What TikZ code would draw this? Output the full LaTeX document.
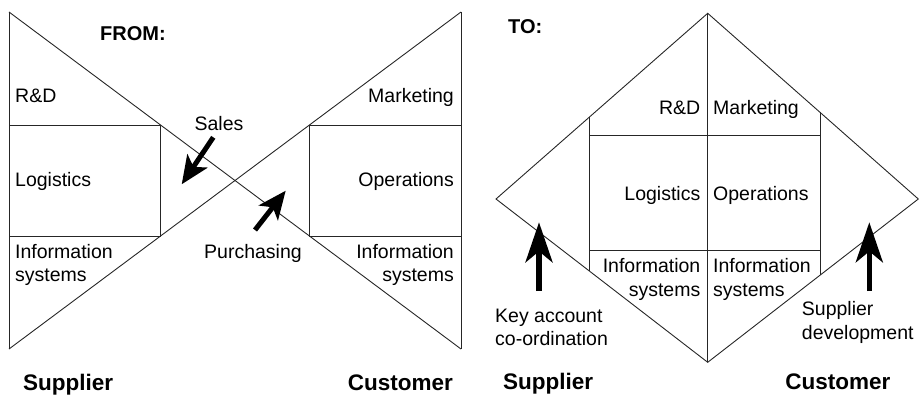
\documentclass[tikz,border=0pt]{standalone}
\usepackage{fontspec}
\setmainfont{Liberation Sans}
\usetikzlibrary{arrows.meta}
\tikzset{
  outline/.style={draw=black!85, line width=0.9pt},
  lbl/.style={inner sep=0pt, font=\fontsize{19.5}{23.5}\selectfont},
  lblL/.style={lbl, anchor=base west, align=left},
  lblR/.style={lbl, anchor=base east, align=right},
  bigb/.style={inner sep=0pt, font=\fontsize{22.5}{26}\selectfont\bfseries, anchor=base west},
  headb/.style={inner sep=0pt, font=\fontsize{20}{24}\selectfont\bfseries, anchor=base west},
  fatsmall/.style={line width=5pt, -{Stealth[length=28pt, width=24pt, inset=7pt]}},
  fatbig/.style={line width=5.5pt, -{Stealth[length=40pt, width=27pt, inset=11pt]}}
}
\begin{document}
\begin{tikzpicture}[x=1pt, y=-1pt]
\useasboundingbox (0,0) rectangle (921,396);
% ---------- FROM panel ----------
\coordinate (a1) at (9,12);
\coordinate (a2) at (461,12);
\coordinate (a3) at (9,349);
\coordinate (a4) at (461,349);
\coordinate (lb1) at (9,125);
\coordinate (lb2) at (160.6,125);
\coordinate (lb3) at (160.6,236);
\coordinate (lb4) at (9,236);
\coordinate (rb1) at (309.4,125);
\coordinate (rb2) at (461,125);
\coordinate (rb3) at (461,236);
\coordinate (rb4) at (309.4,236);
\draw[outline] (a1) -- (a4);
\draw[outline] (a3) -- (a2);
\draw[outline] (a1) -- (a3);
\draw[outline] (a2) -- (a4);
\draw[outline] (lb1) -- (lb2) -- (lb3) -- (lb4);
\draw[outline] (rb2) -- (rb1) -- (rb4) -- (rb3);

\node[headb] (from) at (100,40.7) {FROM:};
\node[lblL] (rd1) at (15,102.7) {R\&D};
\node[lblR] (mk1) at (454,102.7) {Marketing};
\node[lblL] (lg1) at (15,186.7) {Logistics};
\node[lblR] (op1) at (454,186.7) {Operations};
\node[lblL] (is1) at (15,281.7) {Information\\systems};
\node[lblR] (is2) at (454,281.7) {Information\\systems};
\node[lbl, anchor=base] (sales) at (219,130) {Sales};
\node[lblL] (purch) at (204,258) {Purchasing};
\node[bigb] (sup1) at (23,390) {Supplier};
\node[bigb, anchor=base east] (cus1) at (453,390) {Customer};

\coordinate (s1) at (213.3,137.3);
\coordinate (s2) at (181.7,184.3);
\coordinate (p1) at (255,230);
\coordinate (p2) at (285.7,190.7);
\draw[fatsmall] (s1) -- (s2);
\draw[fatsmall] (p1) -- (p2);

% ---------- TO panel ----------
\coordinate (dT) at (707.7,13.3);
\coordinate (dL) at (496,199);
\coordinate (dR) at (918.3,199);
\coordinate (dB) at (707.7,362.3);
\coordinate (v1t) at (589.3,117.4);
\coordinate (v1b) at (589.3,270.7);
\coordinate (v2t) at (820,112.3);
\coordinate (v2b) at (820,275.2);
\coordinate (h1l) at (589.3,135);
\coordinate (h1r) at (820,135);
\coordinate (h2l) at (589.3,250.7);
\coordinate (h2r) at (820,250.7);
\draw[outline] (dT) -- (dR) -- (dB) -- (dL) -- cycle;
\draw[outline] (dT) -- (dB);
\draw[outline] (v1t) -- (v1b);
\draw[outline] (v2t) -- (v2b);
\draw[outline] (h1l) -- (h1r);
\draw[outline] (h2l) -- (h2r);

\node[headb] (to) at (508,33.3) {TO:};
\node[lblR] (rd2) at (700.5,114.3) {R\&D};
\node[lblL] (mk2) at (713,114.3) {Marketing};
\node[lblR] (lg2) at (700.5,200) {Logistics};
\node[lblL] (op2) at (713,200) {Operations};
\node[lblR] (is3) at (700.5,296) {Information\\systems};
\node[lblL] (is4) at (713,296) {Information\\systems};
\node[lblL] (key) at (495,345.7) {Key account\\co-ordination};
\node[lblL] (sdev) at (801.7,339.3) {Supplier\\development};
\node[bigb] (sup2) at (503,389.3) {Supplier};
\node[bigb, anchor=base east] (cus2) at (890.7,389.3) {Customer};

\coordinate (k1) at (539,291);
\coordinate (k2) at (539,222.3);
\coordinate (q1) at (869.3,291);
\coordinate (q2) at (869.3,222.3);
\draw[fatbig] (k1) -- (k2);
\draw[fatbig] (q1) -- (q2);
\end{tikzpicture}
\end{document}
